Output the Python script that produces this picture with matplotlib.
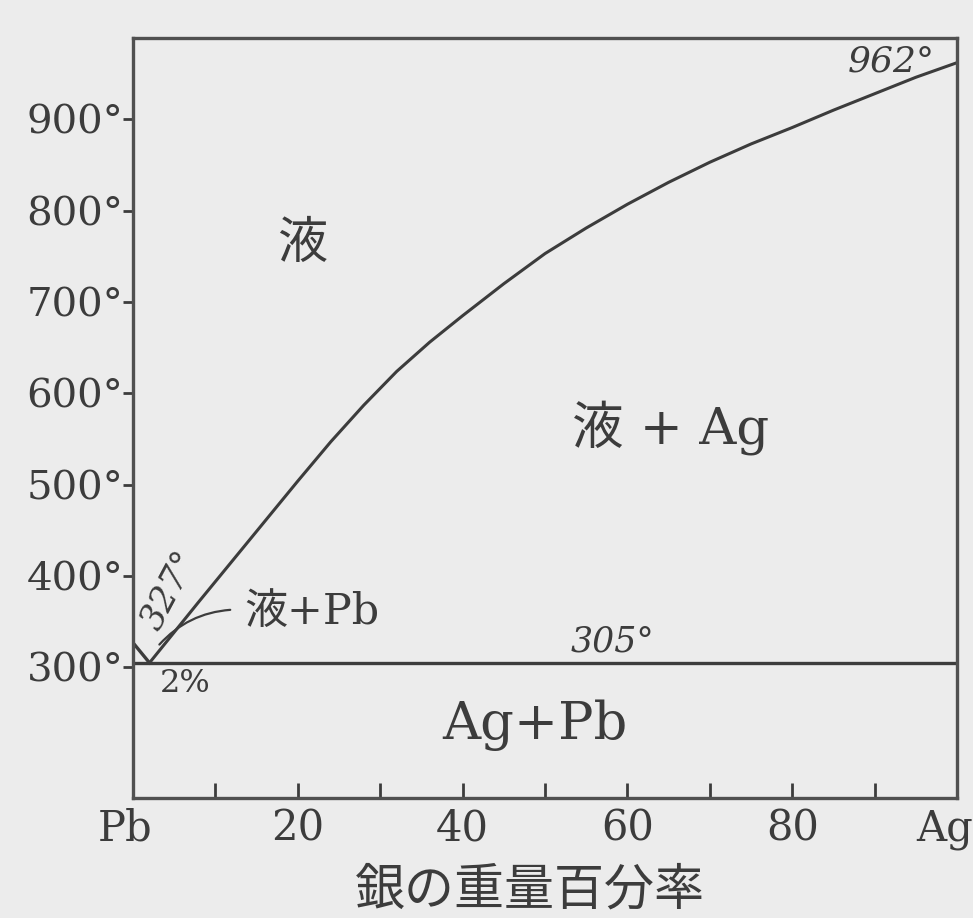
import matplotlib
matplotlib.use("Agg")
import matplotlib.pyplot as plt
from matplotlib.transforms import ScaledTranslation

plt.rcParams['font.family'] = ['DejaVu Serif', 'Noto Sans CJK JP']

# Ag-Pb equilibrium diagram: weight percent silver vs temperature (°C)
ag_liquidus_pct = [2, 8, 12, 16, 20, 24, 28, 32, 36, 40, 45, 50, 55, 60,
                   65, 70, 75, 80, 85, 90, 95, 100]
ag_liquidus_temp = [305, 372, 416, 460, 504, 547, 587, 624, 656, 685, 720, 753, 781, 807,
                    831, 853, 873, 891, 910, 928, 946, 962]
pb_liquidus_pct = [0, 2]
pb_liquidus_temp = [327, 305]
eutectic_temp = 305
eutectic_pct = 2
pb_melting = 327
ag_melting = 962

x_ticks = [0, 10, 20, 30, 40, 50, 60, 70, 80, 90, 100]
x_ticklabels = ['Pb', '', '20', '', '40', '', '60', '', '80', '', 'Ag']
y_ticks = [300, 400, 500, 600, 700, 800, 900]
y_ticklabels = [f'{t}°' for t in y_ticks]

ink = '#3c3c3c'
paper = '#ececec'

fig = plt.figure(figsize=(9.73, 9.18), dpi=100, facecolor=paper)
ax = fig.add_axes([0.1367, 0.1307, 0.8469, 0.8279], facecolor=paper)

# phase boundaries
ax.plot(ag_liquidus_pct, ag_liquidus_temp, color=ink, lw=2.2,
        solid_capstyle='round', solid_joinstyle='round')
ax.plot(pb_liquidus_pct, pb_liquidus_temp, color=ink, lw=2.4)
ax.hlines(eutectic_temp, 0, 100, color=ink, lw=2.4)

ax.set_xlim(0, 100)
ax.set_ylim(157, 989)

for s in ax.spines.values():
    s.set_color('#505050')
    s.set_linewidth(2.4)

ax.set_xticks(x_ticks)
ax.set_xticklabels(x_ticklabels)
ax.set_yticks(y_ticks)
ax.set_yticklabels(y_ticklabels)
ax.tick_params(axis='x', direction='in', length=11, width=2, color=ink,
               labelsize=30, labelcolor=ink, pad=7)
ax.tick_params(axis='y', direction='out', length=7, width=2, color=ink,
               labelsize=29, labelcolor=ink, pad=0)

# keep the end labels "Pb" and "Ag" clear of the figure edge
last = ax.get_xticklabels()[-1]
last.set_transform(last.get_transform() + ScaledTranslation(-0.12, 0, fig.dpi_scale_trans))
first = ax.get_xticklabels()[0]
first.set_transform(first.get_transform() + ScaledTranslation(-0.08, 0, fig.dpi_scale_trans))

ax.set_xlabel('銀の重量百分率', fontsize=36, color=ink, labelpad=10)
ax.xaxis.set_label_coords(0.482, -0.09)

# region labels
ax.text(20.5, 763, '液', fontsize=36, color=ink, ha='center', va='center')
ax.text(65.2, 563, '液 + Ag', fontsize=37, color=ink, ha='center', va='center')
ax.text(48.8, 237, 'Ag+Pb', fontsize=38, color=ink, ha='center', va='center')
ax.text(21.7, 361, '液+Pb', fontsize=31, color=ink, ha='center', va='center')
ax.annotate('', xy=(11.8, 363), xytext=(eutectic_pct + 1.2, eutectic_temp + 20),
            arrowprops=dict(arrowstyle='-', color=ink, lw=1.6,
                            connectionstyle='arc3,rad=-0.2', shrinkA=0, shrinkB=0))

# temperature and composition annotations
ax.text(58.2, eutectic_temp + 23, f'{eutectic_temp}°', fontsize=25, style='italic',
        color=ink, ha='center', va='center')
ax.text(92.0, ag_melting + 1, f'{ag_melting}°', fontsize=26, style='italic',
        color=ink, ha='center', va='center')
ax.text(4.4, 385, f'{pb_melting}°', fontsize=25, style='italic', rotation=62,
        color=ink, ha='center', va='center')
ax.text(6.3, 282, f'{eutectic_pct}%', fontsize=23, color=ink, ha='center', va='center')

fig.savefig('out.png', dpi=100, facecolor=paper)
